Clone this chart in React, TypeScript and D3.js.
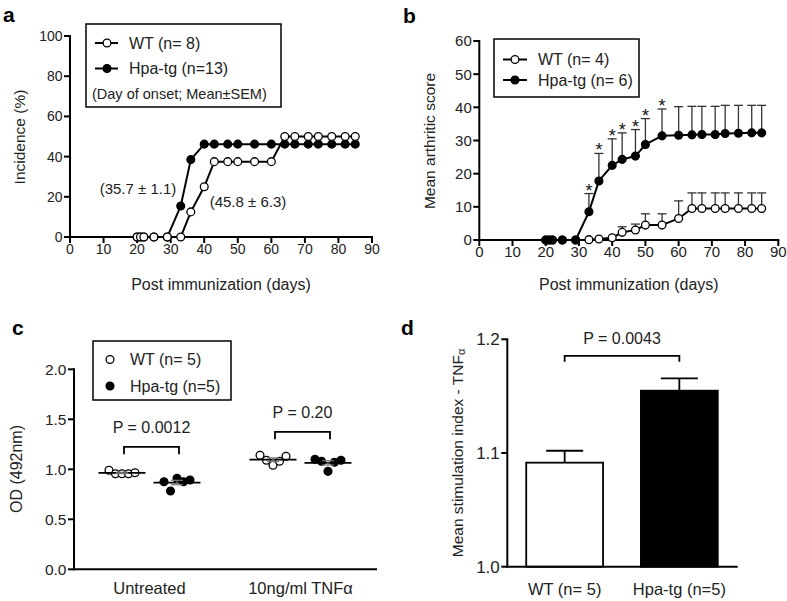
import React from "react";
import * as d3 from "d3";

// ---------- DATA ----------
const days = [20, 21, 22, 25, 29, 33, 36, 40, 43, 47, 50, 55, 60, 64, 67, 71, 74, 78, 82, 85];
// panel a: incidence (%)
const incidenceWT = [0, 0, 0, 0, 0, 0, 12.5, 25, 37.5, 37.5, 37.5, 37.5, 37.5, 50, 50, 50, 50, 50, 50, 50];
const incidenceHpa = [0, 0, 0, 0, 0, 15.4, 38.5, 46.2, 46.2, 46.2, 46.2, 46.2, 46.2, 46.2, 46.2, 46.2, 46.2, 46.2, 46.2, 46.2];
const xTicksDays = [0, 10, 20, 30, 40, 50, 60, 70, 80, 90];
const yTicksIncidence = [0, 20, 40, 60, 80, 100];
// panel b: mean arthritic score
const scoreWT = [0, 0, 0, 0, 0, 0.1, 0.3, 0.7, 2.3, 3.0, 4.5, 4.5, 6.5, 9.5, 9.5, 9.5, 9.5, 9.5, 9.5, 9.5];
const scoreWTsem = [0, 0, 0, 0, 0, 0, 0, 0, 1.7, 1.8, 3.4, 3.4, 5.3, 4.7, 4.7, 4.7, 4.7, 4.7, 4.7, 4.7];
const scoreHpa = [0, 0, 0, 0, 0, 8.5, 17.8, 22.5, 24.3, 25.3, 28.8, 31.4, 31.6, 31.7, 31.8, 31.8, 32.1, 32.2, 32.3, 32.3];
const scoreHpaSem = [0, 0, 0, 0, 0, 5.5, 8.3, 8.0, 8.0, 8.0, 7.8, 8.1, 8.6, 8.6, 8.5, 8.5, 8.5, 8.4, 8.3, 8.3];
const sigDays = [33, 36, 40, 43, 47, 50, 55];
const yTicksScore = [0, 10, 20, 30, 40, 50, 60];
// panel c: OD (492nm)
const odCategories = ["Untreated", "10ng/ml TNFα"];
const odWT = [
  [0.99, 0.955, 0.955, 0.955, 0.965],
  [1.14, 1.09, 1.04, 1.08, 1.13],
];
const odHpa = [
  [0.876, 0.783, 0.91, 0.876, 0.893],
  [1.1, 1.08, 0.98, 1.07, 1.09],
];
const odPLabels = ["P = 0.0012", "P = 0.20"];
const odBracketLevels = [1.225, 1.375];
const yTicksOD = [0, 0.5, 1.0, 1.5, 2.0];
// panel d: stimulation index
const siGroups = ["WT (n= 5)", "Hpa-tg (n=5)"];
const siMeans = [1.0915, 1.1548];
const siSem = [0.0105, 0.0109];
const siP = "P = 0.0043";
const siBracketLevel = 1.1855;
const yTicksSI = [1.0, 1.1, 1.2];

// ---------- STYLE ----------
const FONT = "'Liberation Sans', Arial, Helvetica, sans-serif";
const AX = 2;

function YAxis({ scale, x, ticks, fmt, fs }: any) {
  const [y0, y1] = scale.range();
  return (
    <g>
      <line x1={x} x2={x} y1={y0} y2={y1} stroke="#000" strokeWidth={AX} strokeLinecap="square" />
      {ticks.map((t: number) => (
        <g key={t}>
          <line x1={x - 6} x2={x} y1={scale(t)} y2={scale(t)} stroke="#000" strokeWidth={AX} />
          <text x={x - 7.5} y={scale(t)} dy="0.36em" textAnchor="end" fontSize={fs} fontFamily={FONT} fill="#222">
            {fmt(t)}
          </text>
        </g>
      ))}
    </g>
  );
}

function XAxisLinear({ scale, y, ticks, fs }: any) {
  const [x0, x1] = scale.range();
  return (
    <g>
      <line x1={x0} x2={x1} y1={y} y2={y} stroke="#000" strokeWidth={AX} strokeLinecap="square" />
      {ticks.map((t: number) => (
        <g key={t}>
          <line x1={scale(t)} x2={scale(t)} y1={y} y2={y + 6} stroke="#000" strokeWidth={AX} />
          <text x={scale(t)} y={y + 17} textAnchor="middle" fontSize={fs} fontFamily={FONT} fill="#222">
            {t}
          </text>
        </g>
      ))}
    </g>
  );
}

function Dot({ cx, cy, filled, r = 3.9 }: any) {
  return <circle cx={cx} cy={cy} r={r} fill={filled ? "#000" : "#fff"} stroke="#000" strokeWidth={1.3} />;
}

function PanelA() {
  const x = d3.scaleLinear().domain([0, 90]).range([70, 372]);
  const y = d3.scaleLinear().domain([0, 100]).range([237, 36]);
  const line = d3.line<number>().x((_, i) => x(days[i])).y((v) => y(v));
  return (
    <g>
      <text x={3} y={22} fontSize={21} fontWeight="bold" fontFamily={FONT}>a</text>
      <YAxis scale={y} x={70} ticks={yTicksIncidence} fmt={(t: number) => t} fs={14} />
      <XAxisLinear scale={x} y={237} ticks={xTicksDays} fs={14} />
      <path d={line(incidenceHpa) || ""} fill="none" stroke="#000" strokeWidth={2} />
      {incidenceHpa.map((v, i) => <Dot key={i} cx={x(days[i])} cy={y(v)} filled />)}
      <path d={line(incidenceWT) || ""} fill="none" stroke="#000" strokeWidth={2} />
      {incidenceWT.map((v, i) => <Dot key={i} cx={x(days[i])} cy={y(v)} />)}
      <text x={138} y={194} textAnchor="middle" fontSize={15} fontFamily={FONT} fill="#222">(35.7 ± 1.1)</text>
      <text x={248} y={207} textAnchor="middle" fontSize={15} fontFamily={FONT} fill="#222">(45.8 ± 6.3)</text>
      <text transform="translate(20,137) rotate(-90)" textAnchor="middle" dy="0.35em" fontSize={15.5} fontFamily={FONT} fill="#222">Incidence (%)</text>
      <text x={221} y={290} textAnchor="middle" fontSize={16} fontFamily={FONT} fill="#222">Post immunization (days)</text>
      {/* legend */}
      <rect x={86} y={24} width={195} height={83} fill="#fff" stroke="#000" strokeWidth={1.5} />
      <line x1={95} x2={118} y1={43} y2={43} stroke="#000" strokeWidth={2} />
      <Dot cx={107} cy={43} />
      <text x={129} y={43} dy="0.36em" fontSize={16} fontFamily={FONT} fill="#222">WT (n= 8)</text>
      <line x1={95} x2={118} y1={68.5} y2={68.5} stroke="#000" strokeWidth={2} />
      <Dot cx={107} cy={68.5} filled />
      <text x={129} y={68.5} dy="0.36em" fontSize={16} fontFamily={FONT} fill="#222">Hpa-tg (n=13)</text>
      <text x={92} y={94} dy="0.36em" fontSize={14.5} fontFamily={FONT} fill="#222">(Day of onset; Mean±SEM)</text>
    </g>
  );
}

function PanelB() {
  const x = d3.scaleLinear().domain([0, 90]).range([479.3, 778.3]);
  const y = d3.scaleLinear().domain([0, 60]).range([240, 41]);
  const line = d3.line<number>().x((_, i) => x(days[i])).y((v) => y(v));
  const errBars = (vals: number[], sems: number[], key: string) =>
    vals.map((v, i) =>
      sems[i] > 0 ? (
        <g key={key + i}>
          <line x1={x(days[i])} x2={x(days[i])} y1={y(v)} y2={y(v + sems[i])} stroke="#333" strokeWidth={1.3} />
          <line x1={x(days[i]) - 4.5} x2={x(days[i]) + 4.5} y1={y(v + sems[i])} y2={y(v + sems[i])} stroke="#333" strokeWidth={1.3} />
        </g>
      ) : null
    );
  return (
    <g>
      <text x={403} y={23} fontSize={21} fontWeight="bold" fontFamily={FONT}>b</text>
      <YAxis scale={y} x={479.3} ticks={yTicksScore} fmt={(t: number) => t} fs={15} />
      <XAxisLinear scale={x} y={240} ticks={xTicksDays} fs={15} />
      {errBars(scoreWT, scoreWTsem, "w")}
      {errBars(scoreHpa, scoreHpaSem, "h")}
      <path d={line(scoreWT) || ""} fill="none" stroke="#000" strokeWidth={2} />
      {scoreWT.map((v, i) => <Dot key={i} cx={x(days[i])} cy={y(v)} />)}
      <path d={line(scoreHpa) || ""} fill="none" stroke="#000" strokeWidth={2} />
      {scoreHpa.map((v, i) => <Dot key={i} cx={x(days[i])} cy={y(v)} filled />)}
      {sigDays.map((d) => {
        const i = days.indexOf(d);
        return (
          <text key={d} x={x(d)} y={y(scoreHpa[i] + scoreHpaSem[i]) + 3} textAnchor="middle" fontSize={18} fontFamily={FONT} fill="#111">*</text>
        );
      })}
      <text transform="translate(430,141) rotate(-90)" textAnchor="middle" dy="0.35em" fontSize={15.5} fontFamily={FONT} fill="#222">Mean arthritic score</text>
      <text x={628.8} y={290} textAnchor="middle" fontSize={16} fontFamily={FONT} fill="#222">Post immunization (days)</text>
      <rect x={494} y={39} width={145} height={58} fill="#fff" stroke="#000" strokeWidth={1.5} />
      <line x1={503} x2={527} y1={59.5} y2={59.5} stroke="#000" strokeWidth={2} />
      <Dot cx={515} cy={59.5} />
      <text x={538} y={59.5} dy="0.36em" fontSize={16} fontFamily={FONT} fill="#222">WT (n= 4)</text>
      <line x1={503} x2={527} y1={80} y2={80} stroke="#000" strokeWidth={2} />
      <Dot cx={515} cy={80} filled />
      <text x={538} y={80} dy="0.36em" fontSize={16} fontFamily={FONT} fill="#222">Hpa-tg (n= 6)</text>
    </g>
  );
}

function PanelC() {
  const xc = d3.scalePoint<string>().domain(odCategories).range([74, 376]).padding(0.5);
  const y = d3.scaleLinear().domain([0, 2]).range([569.3, 369.3]);
  const inner = 27.5;
  const spacing = 6.5;
  const groups = odCategories.flatMap((c, ci) => [
    { cx: (xc(c) as number) - inner, vals: odWT[ci], filled: false },
    { cx: (xc(c) as number) + inner, vals: odHpa[ci], filled: true },
  ]);
  return (
    <g>
      <text x={12} y={335} fontSize={21} fontWeight="bold" fontFamily={FONT}>c</text>
      <YAxis scale={y} x={74} ticks={yTicksOD} fmt={(t: number) => t.toFixed(1)} fs={15.5} />
      <line x1={74} x2={376} y1={569.3} y2={569.3} stroke="#000" strokeWidth={AX} strokeLinecap="square" />
      {odCategories.map((c) => (
        <text key={c} x={xc(c) as number} y={594} textAnchor="middle" fontSize={16.5} fontFamily={FONT} fill="#222">{c}</text>
      ))}
      {groups.map((g, gi) => {
        const m = d3.mean(g.vals) as number;
        const sem = (d3.deviation(g.vals) as number) / Math.sqrt(g.vals.length);
        return (
          <g key={gi}>
            {g.vals.map((v, i) => (
              <Dot key={i} cx={g.cx + (i - 2) * spacing} cy={y(v)} filled={g.filled} r={3.9} />
            ))}
            <line x1={g.cx - 23.5} x2={g.cx + 23.5} y1={y(m)} y2={y(m)} stroke="#000" strokeWidth={1.8} />
            <line x1={g.cx} x2={g.cx} y1={y(m - sem)} y2={y(m + sem)} stroke="#777" strokeWidth={1.2} />
            <line x1={g.cx - 6} x2={g.cx + 6} y1={y(m + sem)} y2={y(m + sem)} stroke="#777" strokeWidth={1.2} />
            <line x1={g.cx - 6} x2={g.cx + 6} y1={y(m - sem)} y2={y(m - sem)} stroke="#777" strokeWidth={1.2} />
          </g>
        );
      })}
      {odCategories.map((c, ci) => {
        const cx = xc(c) as number;
        const by = y(odBracketLevels[ci]);
        return (
          <g key={c}>
            <path d={`M${cx - inner + 2},${by + 7.5}V${by}H${cx + inner + 2}V${by + 7.5}`} fill="none" stroke="#000" strokeWidth={1.8} />
            <text x={cx + 2} y={by - 13.5} textAnchor="middle" fontSize={16} fontFamily={FONT} fill="#222">{odPLabels[ci]}</text>
          </g>
        );
      })}
      <text transform="translate(16,469) rotate(-90)" textAnchor="middle" dy="0.35em" fontSize={16} fontFamily={FONT} fill="#222">OD (492nm)</text>
      <rect x={93} y={341} width={138} height={59} fill="#fff" stroke="#000" strokeWidth={1.5} />
      <Dot cx={110} cy={359.5} />
      <text x={130} y={359.5} dy="0.36em" fontSize={16} fontFamily={FONT} fill="#222">WT (n= 5)</text>
      <Dot cx={110} cy={386} filled />
      <text x={130} y={386} dy="0.36em" fontSize={16} fontFamily={FONT} fill="#222">Hpa-tg (n=5)</text>
    </g>
  );
}

function PanelD() {
  const x = d3.scaleBand<string>().domain(siGroups).range([507.3, 736.7]).paddingInner(0.33).paddingOuter(0.165);
  const y = d3.scaleLinear().domain([1.0, 1.2]).range([566.7, 339.3]);
  const c0 = (x(siGroups[0]) as number) + x.bandwidth() / 2;
  const c1 = (x(siGroups[1]) as number) + x.bandwidth() / 2;
  const by = y(siBracketLevel);
  return (
    <g>
      <text x={401} y={335} fontSize={21} fontWeight="bold" fontFamily={FONT}>d</text>
      <YAxis scale={y} x={507.3} ticks={yTicksSI} fmt={(t: number) => t.toFixed(1)} fs={17} />
      {siGroups.map((g, i) => {
        const bx = x(g) as number;
        const cx = bx + x.bandwidth() / 2;
        return (
          <g key={g}>
            <line x1={cx} x2={cx} y1={y(siMeans[i])} y2={y(siMeans[i] + siSem[i])} stroke="#000" strokeWidth={1.8} />
            <line x1={cx - 18.5} x2={cx + 18.5} y1={y(siMeans[i] + siSem[i])} y2={y(siMeans[i] + siSem[i])} stroke="#000" strokeWidth={1.8} />
            <rect x={bx} y={y(siMeans[i])} width={x.bandwidth()} height={y(1.0) - y(siMeans[i])} fill={i === 0 ? "#fff" : "#000"} stroke="#000" strokeWidth={1.8} />
            <text x={cx} y={595} textAnchor="middle" fontSize={16.5} fontFamily={FONT} fill="#222">{g}</text>
          </g>
        );
      })}
      <line x1={507.3} x2={736.7} y1={566.7} y2={566.7} stroke="#000" strokeWidth={AX} strokeLinecap="square" />
      <path d={`M${c0},${by + 6}V${by}H${c1}V${by + 6}`} fill="none" stroke="#000" strokeWidth={1.8} />
      <text x={(c0 + c1) / 2} y={by - 12} textAnchor="middle" fontSize={16} fontFamily={FONT} fill="#222">{siP}</text>
      <text transform="translate(458,453) rotate(-90)" textAnchor="middle" dy="0.35em" fontSize={15.5} fontFamily={FONT} fill="#222">
        Mean stimulation index - TNF<tspan fontSize={11} dy="2">α</tspan>
      </text>
    </g>
  );
}

export default function App() {
  return (
    <div style={{ position: "absolute", left: 0, top: 0 }}>
      <svg width={787} height={601} style={{ display: "block", background: "#fff" }}>
        <rect width={787} height={601} fill="#fff" />
        <PanelA />
        <PanelB />
        <PanelC />
        <PanelD />
      </svg>
    </div>
  );
}
